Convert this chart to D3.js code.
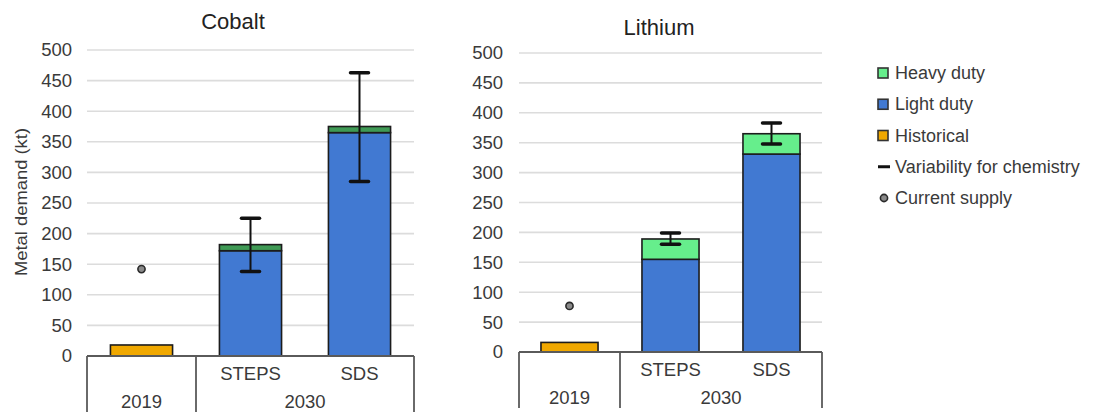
<!DOCTYPE html>
<html>
<head>
<meta charset="utf-8">
<script src="https://cdn.jsdelivr.net/npm/d3@7"></script>
<style>
  html, body { margin: 0; padding: 0; background: #fff; }
  svg { display: block; font-family: "Liberation Sans", Arial, sans-serif; }
</style>
</head>
<body>
<svg id="chart" width="1098" height="415"></svg>
<script>
// ---- data ----
const categories = ["2019", "STEPS", "SDS"];
const groupLabels = ["2019", "2030"];
const yTicks = [0, 50, 100, 150, 200, 250, 300, 350, 400, 450, 500];

const cobaltHistorical = [18, 0, 0];
const cobaltLightDuty  = [0, 172, 365];
const cobaltHeavyDuty  = [0, 10, 10];
const cobaltVarLow     = [null, 138, 285];
const cobaltVarHigh    = [null, 225, 463];
const cobaltSupply     = [142, null, null];

const lithiumHistorical = [16, 0, 0];
const lithiumLightDuty  = [0, 155, 331];
const lithiumHeavyDuty  = [0, 34, 34];
const lithiumVarLow     = [null, 180, 348];
const lithiumVarHigh    = [null, 199, 383];
const lithiumSupply     = [77, null, null];

const legendItems = ["Heavy duty", "Light duty", "Historical", "Variability for chemistry", "Current supply"];

// ---- styles ----
const colors = { historical: "#f0a800", light: "#4179d2", heavy: "#66ee8c", heavyDark: "#3f9a55" };
const textColor = "#3a3a3a";

const svg = d3.select("#chart");

function drawPanel(cfg) {
  const g = svg.append("g");
  const x = d3.scaleBand().domain(categories).range([cfg.x0, cfg.x1]).padding(0);
  const y = d3.scaleLinear().domain([0, 500]).range([cfg.yBase, cfg.yTop]);
  const bw = x.bandwidth() * cfg.barFrac;
  const cx = c => x(c) + x.bandwidth() / 2;

  // gridlines
  g.append("g").selectAll("line").data(yTicks.filter(t => t > 0)).join("line")
    .attr("x1", cfg.x0).attr("x2", cfg.x1)
    .attr("y1", d => y(d)).attr("y2", d => y(d))
    .attr("stroke", "#dcdcdc").attr("stroke-width", 1.6);

  // y axis tick labels via d3 axis
  const axis = d3.axisLeft(y).tickValues(yTicks).tickSize(0).tickPadding(0);
  const ag = g.append("g").attr("transform", `translate(${cfg.labelRight},0)`).call(axis);
  ag.select(".domain").remove();
  ag.selectAll("text").attr("font-size", 18.5).attr("fill", textColor)
    .attr("font-family", "Liberation Sans, Arial, sans-serif");

  // stacked bars
  const stacks = categories.map((c, i) => {
    const parts = [];
    let base = 0;
    [[cfg.hist[i], colors.historical], [cfg.light[i], colors.light], [cfg.heavy[i], cfg.heavyColor]].forEach(([v, col]) => {
      if (v > 0) { parts.push({ c, y0: base, y1: base + v, col }); base += v; }
    });
    return parts;
  }).flat();

  g.append("g").selectAll("rect").data(stacks).join("rect")
    .attr("x", d => cx(d.c) - bw / 2)
    .attr("width", bw)
    .attr("y", d => y(d.y1))
    .attr("height", d => y(d.y0) - y(d.y1))
    .attr("fill", d => d.col)
    .attr("stroke", "#1c1c1c").attr("stroke-width", 1.6);

  // baseline & category separators
  const bot = cfg.yBase + 56;
  g.append("line").attr("x1", cfg.x0).attr("x2", cfg.x1).attr("y1", cfg.yBase).attr("y2", cfg.yBase)
    .attr("stroke", "#5a5a5a").attr("stroke-width", 1.8);
  const seps = [cfg.x0, x("STEPS"), cfg.x1];
  g.append("g").selectAll("line").data(seps).join("line")
    .attr("x1", d => d).attr("x2", d => d).attr("y1", cfg.yBase).attr("y2", bot)
    .attr("stroke", "#5a5a5a").attr("stroke-width", 1.8);

  // category labels
  g.append("g").selectAll("text").data(categories.slice(1)).join("text")
    .attr("x", d => cx(d)).attr("y", cfg.yBase + 17)
    .attr("text-anchor", "middle").attr("dominant-baseline", "central")
    .attr("font-size", 18.5).attr("fill", textColor).text(d => d);
  const groupX = [cx("2019"), (x("STEPS") + cfg.x1) / 2];
  g.append("g").selectAll("text").data(groupLabels).join("text")
    .attr("x", (d, i) => groupX[i]).attr("y", cfg.yBase + 45)
    .attr("text-anchor", "middle").attr("dominant-baseline", "central")
    .attr("font-size", 18.5).attr("fill", textColor).text(d => d);

  // error bars
  const errs = categories.map((c, i) => ({ c, lo: cfg.lo[i], hi: cfg.hi[i] })).filter(d => d.lo != null);
  const eg = g.append("g");
  eg.selectAll("line.v").data(errs).join("line").attr("class", "v")
    .attr("x1", d => cx(d.c)).attr("x2", d => cx(d.c))
    .attr("y1", d => y(d.lo)).attr("y2", d => y(d.hi))
    .attr("stroke", "#111").attr("stroke-width", 2);
  ["lo", "hi"].forEach(k => {
    eg.selectAll("line." + k).data(errs).join("line").attr("class", k)
      .attr("x1", d => cx(d.c) - 9).attr("x2", d => cx(d.c) + 9)
      .attr("y1", d => y(d[k])).attr("y2", d => y(d[k]))
      .attr("stroke", "#111").attr("stroke-width", 3.5).attr("stroke-linecap", "round");
  });

  // current supply
  const sup = categories.map((c, i) => ({ c, v: cfg.supply[i] })).filter(d => d.v != null);
  g.append("g").selectAll("circle").data(sup).join("circle")
    .attr("cx", d => cx(d.c)).attr("cy", d => y(d.v)).attr("r", 3.6)
    .attr("fill", "#8a8a8a").attr("stroke", "#2a2a2a").attr("stroke-width", 1.6);

  // title
  g.append("text").attr("x", cfg.titleX).attr("y", cfg.titleY)
    .attr("text-anchor", "middle").attr("font-size", 22).attr("fill", "#222").text(cfg.title);
}

drawPanel({
  title: "Cobalt", titleX: 233, titleY: 29,
  x0: 87, x1: 414, yBase: 356, yTop: 50, labelRight: 72, barFrac: 0.57,
  hist: cobaltHistorical, light: cobaltLightDuty, heavy: cobaltHeavyDuty,
  lo: cobaltVarLow, hi: cobaltVarHigh, supply: cobaltSupply, heavyColor: colors.heavyDark
});
drawPanel({
  title: "Lithium", titleX: 659, titleY: 35,
  x0: 519, x1: 822, yBase: 352, yTop: 53, labelRight: 503, barFrac: 0.565,
  hist: lithiumHistorical, light: lithiumLightDuty, heavy: lithiumHeavyDuty,
  lo: lithiumVarLow, hi: lithiumVarHigh, supply: lithiumSupply, heavyColor: colors.heavy
});

// y axis title
svg.append("text")
  .attr("transform", "translate(21,202) rotate(-90)")
  .attr("text-anchor", "middle").attr("dominant-baseline", "central")
  .attr("font-size", 17).attr("fill", textColor)
  .attr("textLength", 148).attr("lengthAdjust", "spacingAndGlyphs")
  .text("Metal demand (kt)");

// legend
const lg = svg.append("g");
const legendY = d3.scalePoint().domain(legendItems).range([73, 198]);
legendItems.forEach((name, i) => {
  const yy = legendY(name);
  if (i < 3) {
    const col = [colors.heavy, colors.light, colors.historical][i];
    lg.append("rect").attr("x", 878).attr("y", yy - 5).attr("width", 10).attr("height", 10)
      .attr("fill", col).attr("stroke", "#333").attr("stroke-width", 1.6);
  } else if (i === 3) {
    lg.append("line").attr("x1", 878).attr("x2", 890).attr("y1", yy).attr("y2", yy)
      .attr("stroke", "#111").attr("stroke-width", 3);
  } else {
    lg.append("circle").attr("cx", 884).attr("cy", yy).attr("r", 3.6)
      .attr("fill", "#8a8a8a").attr("stroke", "#2a2a2a").attr("stroke-width", 1.6);
  }
  lg.append("text").attr("x", 895).attr("y", yy).attr("dominant-baseline", "central")
    .attr("font-size", 18).attr("fill", textColor).text(name);
});
</script>
</body>
</html>
